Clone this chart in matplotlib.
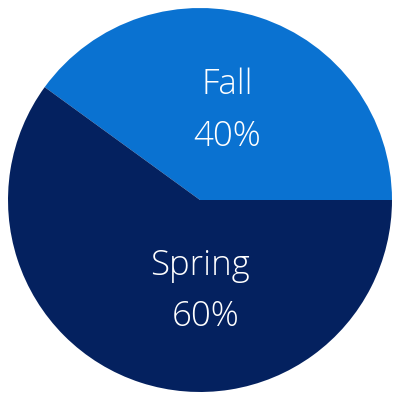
import matplotlib.pyplot as plt

labels = ['Fall', 'Spring']
shares = [40, 60]
colors = ['#0a72d1', '#04215f']

fig = plt.figure(figsize=(4, 4), dpi=100)
ax = fig.add_axes([0, 0, 1, 1])
ax.pie(shares, colors=colors, startangle=0, counterclock=True,
       wedgeprops={'linewidth': 0})
ax.set_xlim(-1.0417, 1.0417)
ax.set_ylim(-1.0417, 1.0417)
ax.set_aspect('equal')
ax.axis('off')

# label positions inside each wedge
pos = [(0.14, 0.60, 0.33), (0.0, -0.34, -0.61)]
for lab, val, (x, y1, y2) in zip(labels, shares, pos):
    ax.text(x, y1, lab, color='white', fontsize=25, ha='center', va='center',
            family='Open Sans', fontweight='light')
    ax.text(x + (0.03 if val == 60 else 0), y2, f'{val}%', color='white',
            fontsize=25, ha='center', va='center', family='Open Sans',
            fontweight='light')

fig.savefig('out.png', dpi=100, facecolor='white')
